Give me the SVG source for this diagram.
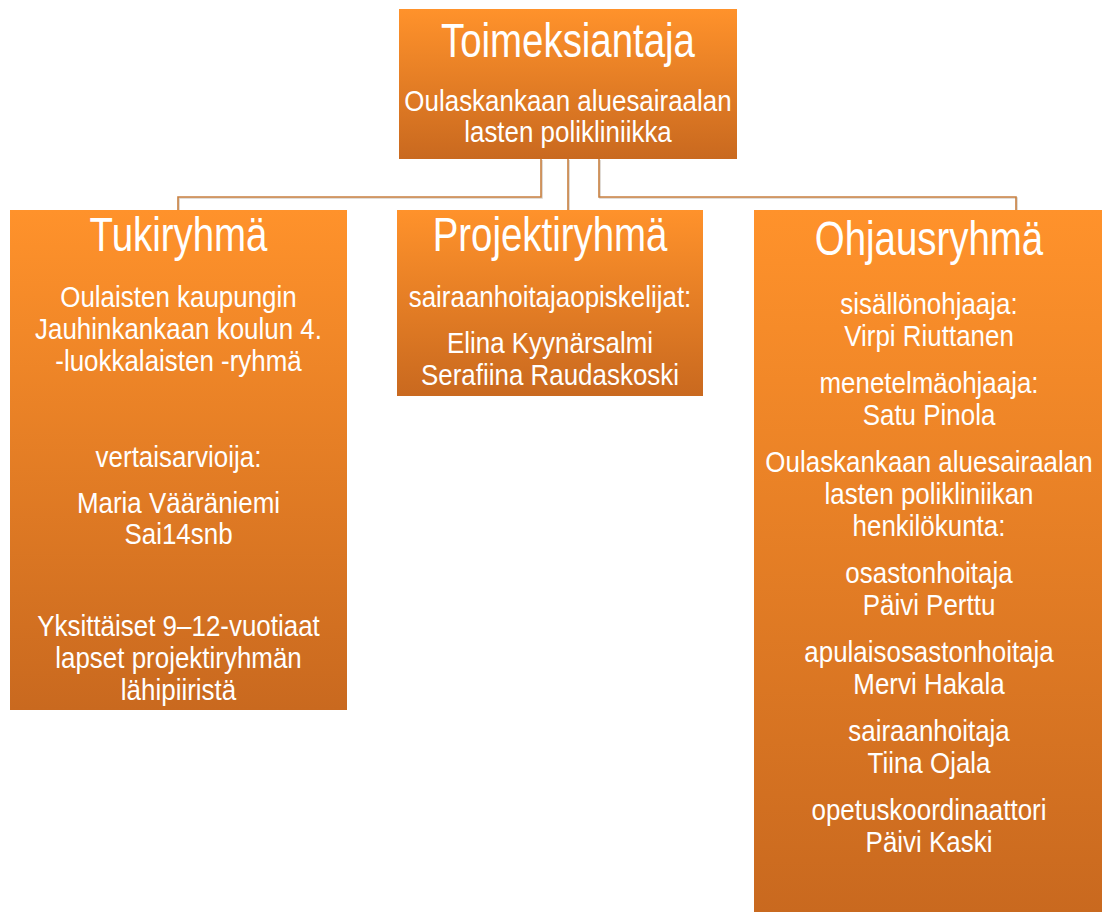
<svg xmlns="http://www.w3.org/2000/svg" width="1102" height="912" viewBox="0 0 1102 912">
<defs>
<linearGradient id="og" x1="0" y1="0" x2="0" y2="1">
<stop offset="0" stop-color="#FF922B"/>
<stop offset="1" stop-color="#C9691F"/>
</linearGradient>
<style>
.box{fill:url(#og);}
.t{font-family:"Liberation Sans",Arial,sans-serif;fill:#FFFFFF;text-anchor:middle;}
.h{font-size:48px;}
.b{font-size:30px;}
.conn{fill:none;stroke:#C98040;stroke-width:1.6;}
.sh{fill:none;stroke:#D9D2CC;stroke-width:1.6;}
</style>
</defs>
<rect width="1102" height="912" fill="#FFFFFF"/>
<g id="connectors">
<path class="sh" d="M542 160 V198 H179 V210 M569 160 V210 M600 160 V198 H1017 V210"/>
<path class="conn" d="M541 159 V197 H178 V210 M568 159 V210 M599 159 V197 H1016 V210"/>
</g>
<g id="toimeksiantaja">
<rect class="box" x="399" y="9" width="338" height="150"/>
<g transform="translate(568 0) scale(0.8 1)"><text class="t h" x="0" y="57">Toimeksiantaja</text></g>
<g transform="translate(568 0) scale(0.865 1)">
<text class="t b" x="0" y="111">Oulaskankaan aluesairaalan</text>
<text class="t b" x="0" y="142">lasten polikliniikka</text>
</g>
</g>
<g id="tukiryhma">
<rect class="box" x="10" y="210" width="337" height="500"/>
<g transform="translate(178.5 0) scale(0.8 1)"><text class="t h" x="0" y="251">Tukiryhmä</text></g>
<g transform="translate(178.5 0) scale(0.865 1)">
<text class="t b" x="0" y="307">Oulaisten kaupungin</text>
<text class="t b" x="0" y="339">Jauhinkankaan koulun 4.</text>
<text class="t b" x="0" y="371">-luokkalaisten -ryhmä</text>
<text class="t b" x="0" y="467">vertaisarvioija:</text>
<text class="t b" x="0" y="513">Maria Vääräniemi</text>
<text class="t b" x="0" y="544">Sai14snb</text>
<text class="t b" x="0" y="636">Yksittäiset 9–12-vuotiaat</text>
<text class="t b" x="0" y="668">lapset projektiryhmän</text>
<text class="t b" x="0" y="700">lähipiiristä</text>
</g>
</g>
<g id="projektiryhma">
<rect class="box" x="397" y="210" width="306" height="186"/>
<g transform="translate(550 0) scale(0.8 1)"><text class="t h" x="0" y="251">Projektiryhmä</text></g>
<g transform="translate(550 0) scale(0.865 1)">
<text class="t b" x="0" y="307">sairaanhoitajaopiskelijat:</text>
<text class="t b" x="0" y="353">Elina Kyynärsalmi</text>
<text class="t b" x="0" y="385">Serafiina Raudaskoski</text>
</g>
</g>
<g id="ohjausryhma">
<rect class="box" x="754" y="210" width="348" height="702"/>
<g transform="translate(929 0) scale(0.8 1)"><text class="t h" x="0" y="255">Ohjausryhmä</text></g>
<g transform="translate(929 0) scale(0.865 1)">
<text class="t b" x="0" y="314">sisällönohjaaja:</text>
<text class="t b" x="0" y="346">Virpi Riuttanen</text>
<text class="t b" x="0" y="393">menetelmäohjaaja:</text>
<text class="t b" x="0" y="425">Satu Pinola</text>
<text class="t b" x="0" y="472">Oulaskankaan aluesairaalan</text>
<text class="t b" x="0" y="504">lasten polikliniikan</text>
<text class="t b" x="0" y="536">henkilökunta:</text>
<text class="t b" x="0" y="583">osastonhoitaja</text>
<text class="t b" x="0" y="615">Päivi Perttu</text>
<text class="t b" x="0" y="662">apulaisosastonhoitaja</text>
<text class="t b" x="0" y="694">Mervi Hakala</text>
<text class="t b" x="0" y="741">sairaanhoitaja</text>
<text class="t b" x="0" y="773">Tiina Ojala</text>
<text class="t b" x="0" y="820">opetuskoordinaattori</text>
<text class="t b" x="0" y="852">Päivi Kaski</text>
</g>
</g>
</svg>
